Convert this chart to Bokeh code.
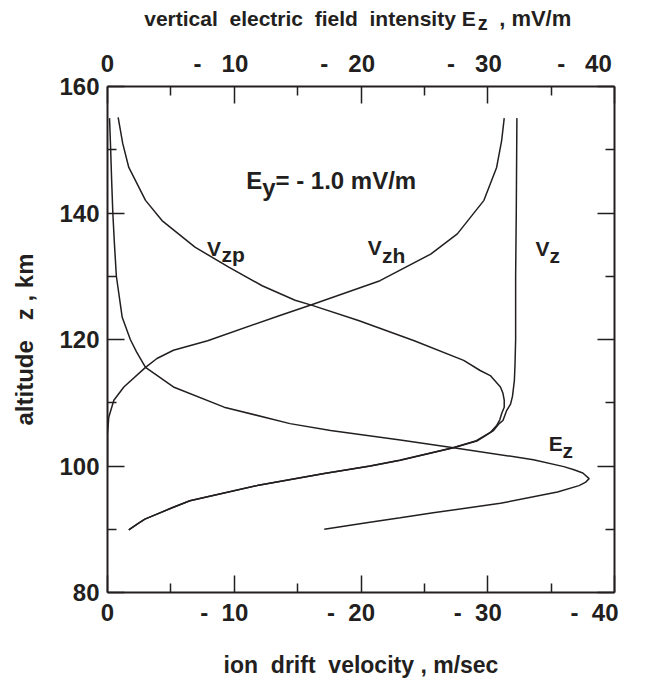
from bokeh.plotting import figure
from bokeh.layouts import column
from bokeh.models import Range1d, LinearAxis, FixedTicker, Label
from bokeh.embed import file_html
from bokeh.resources import INLINE

# ---------------- data ----------------
# V_zp : ion drift velocity due to Pedersen conductivity, m/sec
alt_vzp = [155.1, 151.0, 147.2, 142.0, 138.8, 134.6, 131.4, 128.5, 126.2, 125.4,
           123.0, 119.8, 116.7, 115.1, 114.3, 112.5, 111.5, 110.4, 109.3, 108.3,
           107.3, 106.4, 105.3, 104.0, 102.9, 100.9, 100.0, 98.8, 96.9, 94.5,
           93.4, 92.4, 91.6, 90.9, 89.9]
vzp = [0.84, 1.2, 1.68, 3.0, 4.3, 6.9, 9.6, 12.2, 14.8, 16.15,
       19.8, 24.2, 28.1, 29.4, 30.2, 31.0, 31.2, 31.3, 31.3, 31.1,
       30.95, 30.7, 30.2, 29.1, 27.25, 23.05, 20.7, 17.1, 11.8, 6.5,
       5.1, 3.9, 2.95, 2.4, 1.68]

# V_zh : ion drift velocity due to Hall conductivity, m/sec
alt_vzh = [155.0, 151.5, 147.2, 142.0, 136.7, 133.5, 129.3, 125.5, 123.8, 119.8,
           118.3, 117.0, 115.6, 112.5, 110.4, 107.7, 105.0, 100.0]
vzh = [31.3, 31.1, 30.7, 29.7, 27.6, 25.5, 21.5, 16.1, 13.6, 7.9,
       5.2, 3.9, 3.0, 1.29, 0.5, 0.1, 0.0, 0.0]

# V_z : total vertical ion drift velocity, m/sec
alt_vz = [155.0, 140.0, 130.0, 120.0, 116.0, 113.5, 111.0, 109.8, 108.8, 107.2,
          106.7, 105.6, 104.0, 102.9, 100.9, 100.0, 98.8, 96.9, 94.5, 93.4,
          92.4, 91.6, 90.9, 89.9]
vz = [32.3, 32.25, 32.2, 32.2, 32.15, 32.1, 31.95, 31.8, 31.5, 31.2,
      30.9, 30.45, 29.2, 27.3, 23.1, 20.75, 17.1, 11.8, 6.5, 5.1,
      3.9, 2.95, 2.4, 1.68]

# E_z : vertical electric field intensity (magnitude of a negative field), mV/m
alt_ez = [155.0, 150.0, 145.0, 140.0, 135.0, 130.0, 126.2, 123.5, 120.0, 118.0,
          115.6, 112.5, 109.3, 106.7, 105.6, 104.1, 102.9, 101.0, 99.9, 99.4,
          98.9, 98.0, 97.4, 96.9, 95.9, 94.1, 92.6, 91.8, 91.1, 90.0]
ez = [0.16, 0.25, 0.33, 0.42, 0.55, 0.70, 0.97, 1.16, 1.8, 2.3,
      3.0, 5.2, 9.2, 14.4, 17.6, 23.1, 27.3, 33.6, 36.0, 36.8,
      37.5, 38.0, 37.7, 37.2, 35.5, 31.0, 25.7, 23.1, 20.7, 17.1]

NB = "\u00a0"
x_major = [0, 10, 20, 30, 40]
x_minor = [5, 15, 25, 35]
x_labels = ["0", "-" + NB * 2 + "10" + NB * 3, "-" + NB * 2 + "20" + NB * 3,
            "-" + NB * 2 + "30" + NB * 3, "-" + NB * 2 + "40" + NB * 3]
ez_labels = ["0", "-" + NB * 3 + "10" + NB * 4, "-" + NB * 3 + "20" + NB * 4,
             "-" + NB * 3 + "30" + NB * 4, "-" + NB * 3 + "40" + NB * 4]
y_major = [80, 100, 120, 140, 160]
y_minor = [90, 110, 130, 150]
y_labels = ["80", "100", "120", "140", "160"]

FONT = "Liberation Sans"
INK = "#231f20"

FW, FH = 507, 506
BL, BR = 107, 24
HEAD_H = 44

p = figure(frame_width=FW, frame_height=FH,
           x_range=Range1d(0, 40), y_range=Range1d(80, 160),
           output_backend="svg", toolbar_location=None,
           min_border_left=BL, min_border_right=BR,
           min_border_top=86 - HEAD_H, min_border_bottom=88)
p.extra_x_ranges = {"ez": Range1d(0, 40)}
p.outline_line_color = None
p.grid.visible = False
p.background_fill_color = "white"
p.border_fill_color = "white"


def style_axis(ax, ticks, minor, labels, standoff):
    ax.ticker = FixedTicker(ticks=ticks, minor_ticks=minor)
    ax.major_label_overrides = {t: l for t, l in zip(ticks, labels)}
    ax.axis_line_color = INK
    ax.axis_line_width = 2
    ax.major_tick_in = 17
    ax.major_tick_out = 0
    ax.minor_tick_in = 9
    ax.minor_tick_out = 0
    ax.major_tick_line_color = INK
    ax.major_tick_line_width = 1.5
    ax.minor_tick_line_color = INK
    ax.minor_tick_line_width = 1.5
    ax.major_label_text_font = FONT
    ax.major_label_text_font_style = "bold"
    ax.major_label_text_font_size = "24px"
    ax.major_label_text_color = INK
    ax.major_label_standoff = standoff


bottom = p.xaxis[0]
style_axis(bottom, x_major, x_minor, x_labels, 6)
bottom.axis_label = "ion" + NB * 2 + "drift" + NB * 2 + "velocity" + NB + "," + NB + "m/sec"
bottom.axis_label_text_font = FONT
bottom.axis_label_text_font_style = "bold"
bottom.axis_label_text_font_size = "23px"
bottom.axis_label_text_color = INK
bottom.axis_label_standoff = 23

left = p.yaxis[0]
style_axis(left, y_major, y_minor, y_labels, 8)
left.axis_label = "altitude" + NB * 3 + "z" + NB + "," + NB + "km"
left.axis_label_text_font = FONT
left.axis_label_text_font_style = "bold"
left.axis_label_text_font_size = "24px"
left.axis_label_text_color = INK
left.axis_label_standoff = 18

top = LinearAxis(x_range_name="ez")
p.add_layout(top, "above")
style_axis(top, x_major, x_minor, ez_labels, 10)

right = LinearAxis()
p.add_layout(right, "right")
style_axis(right, y_major, y_minor, [""] * len(y_major), 4)

# ---------------- curves ----------------
lw = 1.5
p.line(vzp, alt_vzp, line_color=INK, line_width=lw)
p.line(vzh, alt_vzh, line_color=INK, line_width=lw)
p.line(vz, alt_vz, line_color=INK, line_width=lw)
p.line(ez, alt_ez, line_color=INK, line_width=lw, x_range_name="ez")


def lab(fig, x, y, text, size, align="left"):
    fig.add_layout(Label(x=x, y=y, text=text, text_font=FONT, text_font_style="bold",
                         text_font_size=size, text_color=INK, text_align=align,
                         text_baseline="alphabetic"))


# curve annotations
lab(p, 10.94, 145.1, "E", "24px")
lab(p, 12.2, 144.0, "y", "24px")
lab(p, 13.25, 145.1, "=" + NB + "-" + NB + "1.0" + NB + "mV/m", "24px")

lab(p, 7.85, 134.34, "V", "21px")
lab(p, 9.0, 133.4, "zp", "21px")
lab(p, 20.54, 134.6, "V", "21px")
lab(p, 21.65, 133.3, "zh", "21px")
lab(p, 33.77, 134.34, "V", "21px")
lab(p, 34.88, 133.3, "z", "21px")
lab(p, 34.82, 103.6, "E", "21px")
lab(p, 35.9, 102.45, "z", "21px")

# ---------------- title strip above the chart (same horizontal scale) ----------------
head = figure(frame_width=FW, frame_height=HEAD_H,
              x_range=Range1d(0, 40),
              y_range=Range1d(160 + (86 - HEAD_H) / 6.325, 160 + 86 / 6.325),
              output_backend="svg", toolbar_location=None,
              x_axis_location=None, y_axis_location=None,
              min_border_left=BL, min_border_right=BR,
              min_border_top=0, min_border_bottom=0)
head.outline_line_color = None
head.grid.visible = False
head.background_fill_color = "white"
head.border_fill_color = "white"

lab(head, 29.05, 170.7,
    "vertical" + NB * 2 + "electric" + NB * 2 + "field" + NB * 2 + "intensity" + NB + "E",
    "21px", align="right")
lab(head, 29.22, 170.05, "z", "20px")
lab(head, 30.9, 170.7, "," + NB + "mV/m", "22px")

layout = column(head, p, spacing=0)
open("out.html", "w").write(file_html(layout, INLINE))
